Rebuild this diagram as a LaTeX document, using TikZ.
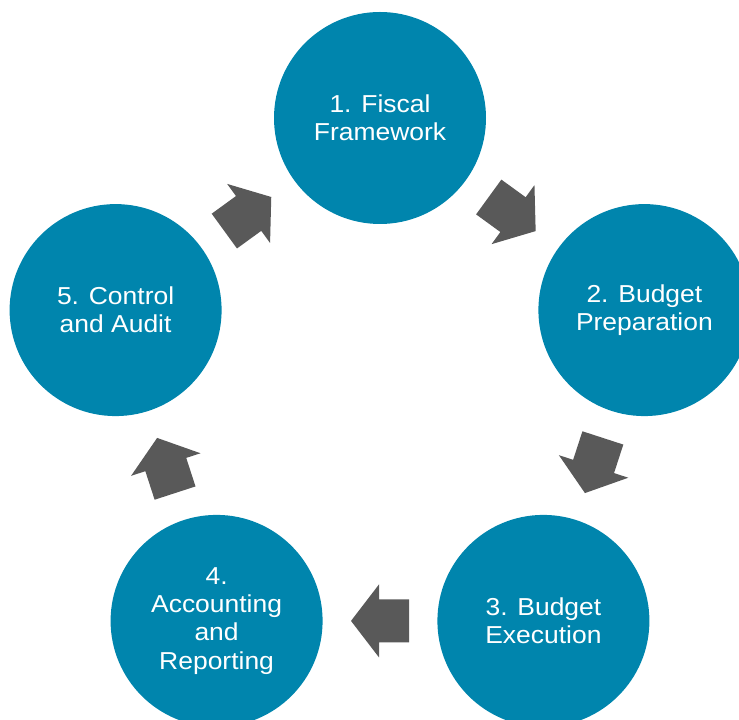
\documentclass[tikz,border=0pt]{standalone}
\usepackage{fontspec}
\setmainfont{Liberation Sans}[FakeStretch=1.08]
\usetikzlibrary{calc}
\definecolor{circblue}{RGB}{0,133,173}
\definecolor{arrgray}{RGB}{89,89,89}
\tikzset{
  stage/.style={circle, fill=circblue, minimum size=212pt, inner sep=0pt,
    text=white, align=center, font=\fontsize{24.5}{28.3}\selectfont},
  cycarrow/.pic={\fill[arrgray] (-29,-21.5) -- (1,-21.5) -- (1,-36.5) -- (29,0)
     -- (1,36.5) -- (1,21.5) -- (-29,21.5) -- cycle;}
}
\begin{document}
\begin{tikzpicture}[x=1pt,y=1pt]
\useasboundingbox (0,0) rectangle (739,720);
\coordinate (c) at (380,324);
\node[stage] (s1) at ($(c)+(90:278)$) {1. Fiscal\\Framework};
\node[stage] (s2) at ($(c)+(18:278)$) {2. Budget\\Preparation};
\node[stage] (s3) at ($(c)+(-54:278)$) {3. Budget\\Execution};
\node[stage] (s4) at ($(c)+(-126:278)$) {4.\\Accounting\\and\\Reporting};
\node[stage] (s5) at ($(c)+(162:278)$) {5. Control\\and Audit};
\pic[rotate=-36] at ($(s1)!0.5!(s2)$) {cycarrow};
\pic[rotate=-108] at ($(s2)!0.5!(s3)$) {cycarrow};
\pic[rotate=180] at ($(s3)!0.5!(s4)$) {cycarrow};
\pic[rotate=108] at ($(s4)!0.5!(s5)$) {cycarrow};
\pic[rotate=36] at ($(s5)!0.5!(s1)$) {cycarrow};
\end{tikzpicture}
\end{document}
